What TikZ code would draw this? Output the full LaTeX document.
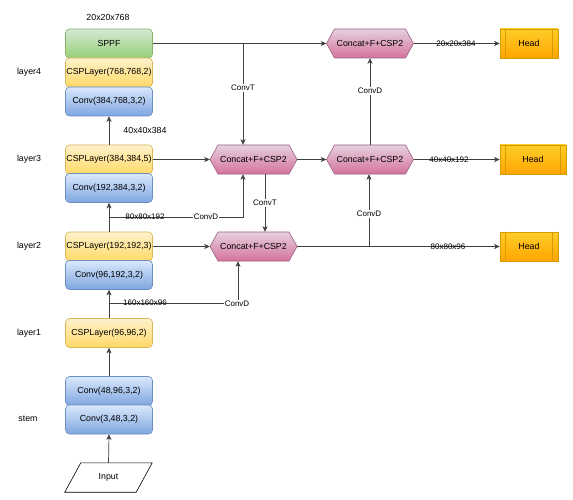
\documentclass[tikz,border=0pt]{standalone}
\usepackage{fontspec}
\setmainfont{Liberation Sans}
\usetikzlibrary{arrows.meta,calc}
\definecolor{sppfT}{HTML}{D5E8D4}\definecolor{sppfB}{HTML}{97D077}\definecolor{sppfD}{HTML}{82B366}
\definecolor{cspT}{HTML}{FFF2CC}\definecolor{cspB}{HTML}{FFD966}\definecolor{cspD}{HTML}{D6B656}
\definecolor{convT}{HTML}{DAE8FC}\definecolor{convB}{HTML}{7EA6E0}\definecolor{convD}{HTML}{6C8EBF}
\definecolor{catT}{HTML}{E6D0DE}\definecolor{catB}{HTML}{D5739D}\definecolor{catD}{HTML}{996185}
\definecolor{headT}{HTML}{FFCD28}\definecolor{headB}{HTML}{FFA500}\definecolor{headD}{HTML}{D79B00}
\definecolor{lineC}{HTML}{404040}
\tikzset{
  box/.style={rounded corners=4pt, minimum width=87pt, minimum height=29pt, inner sep=0pt,
    font=\fontsize{8.8}{10}\selectfont, line width=0.6pt},
  sppfbox/.style={box, draw=sppfD, top color=sppfT, bottom color=sppfB},
  cspbox/.style={box, draw=cspD, top color=cspT, bottom color=cspB},
  convbox/.style={box, draw=convD, top color=convT, bottom color=convB},
  headbox/.style={box, rounded corners=0pt, minimum width=58pt, draw=headD, top color=headT, bottom color=headB},
  catbox/.style={minimum width=87pt, minimum height=29pt, inner sep=0pt, font=\fontsize{8.8}{10}\selectfont},
  hexfill/.style={draw=catD, line width=0.6pt, top color=catT, bottom color=catB},
  plain/.style={font=\fontsize{8.8}{10}\selectfont, inner sep=1pt},
  lab/.style={font=\fontsize{8}{9}\selectfont, fill=white, inner sep=1pt},
  dimlab/.style={font=\fontsize{8}{9}\selectfont, inner sep=1pt},
  arr/.style={draw=lineC, line width=0.7pt, -{Stealth[length=5.5pt,width=5pt,inset=1.5pt]}},
}
\newcommand{\hexat}[3]{%
  \draw[hexfill] ($(#2,#3)+(-43.5,0)$) -- ($(#2,#3)+(-35.5,-14.5)$) -- ($(#2,#3)+(35.5,-14.5)$)
    -- ($(#2,#3)+(43.5,0)$) -- ($(#2,#3)+(35.5,14.5)$) -- ($(#2,#3)+(-35.5,14.5)$) -- cycle;
  \node[catbox] (#1) at (#2,#3) {Concat+F+CSP2};}
\begin{document}
\begin{tikzpicture}[x=1pt,y=-1pt]
\useasboundingbox[fill=white] (0,0) rectangle (573,500);
% backbone
\node[sppfbox] (sppf) at (109,43.5) {SPPF};
\node[cspbox] (csp4) at (109,72.5) {CSPLayer(768,768,2)};
\node[convbox] (conv4) at (109,101.5) {Conv(384,768,3,2)};
\node[cspbox] (csp3) at (109,159.5) {CSPLayer(384,384,5)};
\node[convbox] (conv3) at (109,188) {Conv(192,384,3,2)};
\node[cspbox] (csp2) at (109,246.5) {CSPLayer(192,192,3)};
\node[convbox] (conv2) at (109,275) {Conv(96,192,3,2)};
\node[cspbox] (csp1) at (109,333) {CSPLayer(96,96,2)};
\node[convbox] (conv1b) at (109,391) {Conv(48,96,3,2)};
\node[convbox] (conv1a) at (109,419.5) {Conv(3,48,3,2)};
\node[plain, minimum width=71pt, minimum height=29pt, inner sep=0pt] (input) at (108.5,477.5) {};
\draw[line width=0.6pt] ([xshift=8pt]input.north west) -- ([xshift=8pt]input.north east)
  -- ([xshift=-8pt]input.south east) -- ([xshift=-8pt]input.south west) -- cycle;
\node[plain] (inputtxt) at (input.center) {Input};
% side labels
\node[plain] (t1) at (108,17) {20x20x768};
\node[plain] (l4) at (29,72.5) {layer4};
\node[plain] (l3) at (29,159) {layer3};
\node[plain] (l2) at (29,246) {layer2};
\node[plain] (l1) at (29,333) {layer1};
\node[plain] (ls) at (28,419) {stem};
\node[plain] (t2) at (145,130) {40x40x384};
% neck
\hexat{cA}{370}{43.5}
\hexat{cB}{253.5}{159.5}
\hexat{cC}{370}{159.5}
\hexat{cD}{253.5}{246.5}
% heads
\node[headbox] (hA) at (529,43.5) {Head};
\node[headbox, minimum width=66pt] (hB) at (533,159.5) {Head};
\node[headbox] (hC) at (529,246.5) {Head};
\foreach \h in {hA,hB,hC}{
  \draw[headD, line width=0.6pt] ([xshift=6pt]\h.north west) -- ([xshift=6pt]\h.south west);
  \draw[headD, line width=0.6pt] ([xshift=-6pt]\h.north east) -- ([xshift=-6pt]\h.south east);
}
% coordinates
\coordinate (j1) at (243,43.5);
\coordinate (j2) at (369,246.5);
\coordinate (b1) at (108.5,217);
\coordinate (b2) at (108.5,303);
% connectors
\draw[arr] (input.north) -- (conv1a.south);
\draw[arr] (conv1b.north) -- (csp1.south);
\draw[arr] (csp1.north) -- (conv2.south);
\draw[arr] (csp2.north) -- (conv3.south);
\draw[arr] (csp3.north) -- (conv4.south);
\draw[arr] (sppf.east) -- (cA.west);
\draw[arr] (j1) -- (j1 |- cB.north) node[lab, pos=0.44] {ConvT};
\draw[arr] (csp3.east) -- (cB.west);
\draw[arr] (cB.east) -- (cC.west);
\draw[arr] ([xshift=11.5pt]cB.south) -- ([xshift=11.5pt]cD.north) node[lab, midway] {ConvT};
\draw[arr] (b1) -| ([xshift=-10.5pt]cB.south);
\node[dimlab] (d1) at (145,217) {80x80x192};
\node[lab] (d1c) at (206,217) {ConvD};
\draw[arr] (csp2.east) -- (cD.west);
\draw[arr] (cD.east) -- (hC.west);
\node[dimlab] (d3) at (448,246.5) {80x80x96};
\draw[arr] (j2) -- (j2 |- cC.south) node[lab, pos=0.45] {ConvD};
\draw[arr] (cC.north) -- (cA.south) node[lab, pos=0.62] {ConvD};
\draw[arr] (cA.east) -- (hA.west);
\node[dimlab] (d4) at (456,43.5) {20x20x384};
\draw[arr] (cC.east) -- (hB.west);
\node[dimlab] (d5) at (449,159.5) {40x40x192};
\draw[arr] (b2) -| ([xshift=-15.5pt]cD.south);
\node[dimlab] (d2) at (145,303) {160x160x96};
\node[lab] (d2c) at (237,304) {ConvD};
\end{tikzpicture}
\end{document}
